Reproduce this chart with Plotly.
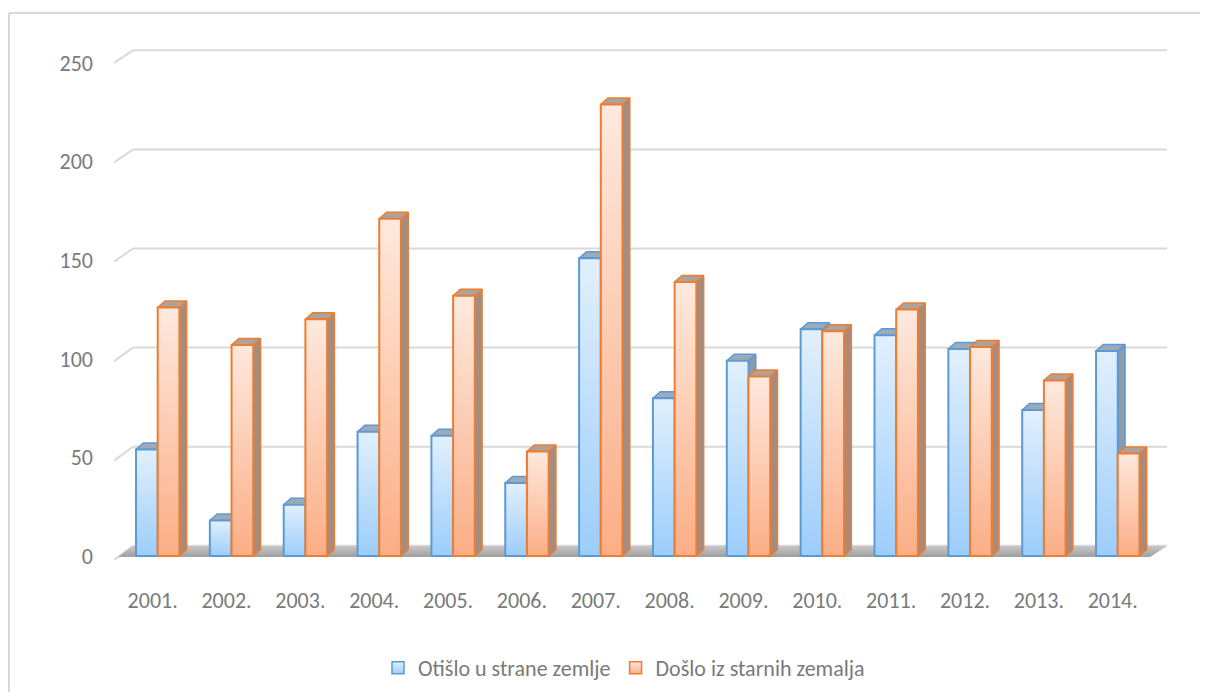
import plotly.graph_objects as go

# ---------------- data ----------------
years = ["2001.", "2002.", "2003.", "2004.", "2005.", "2006.", "2007.",
         "2008.", "2009.", "2010.", "2011.", "2012.", "2013.", "2014."]
otislo = [54, 18, 26, 63, 61, 37, 151, 80, 99, 115, 112, 105, 74, 104]
doslo = [126, 107, 120, 171, 132, 53, 229, 139, 91, 114, 125, 106, 89, 52]
series_names = ["Otišlo u strane zemlje", "Došlo iz starnih zemalja"]
y_ticks = [0, 50, 100, 150, 200, 250]

# ---------------- layout geometry (screen pixels) ----------------
OFF = 8                      # default page body margin
W_FIG, H_FIG = 1192, 684     # fits the 1208x700 window without scrollbars
PX_L, PX_R, PX_T, PX_B = 114, 1167, 40, 560
X_C0, X_STEP = 157.7, 73.85       # pixel of category 0 centre, pixels per category
Y_ZERO, Y_SCALE = 556.0, 1.972    # front plane: pixel of 0, pixels per unit


def px2x(px):
    return (px - X_C0) / X_STEP


def px2y(py):
    return (Y_ZERO - py) / Y_SCALE


def xpaper(px):
    return (px - PX_L) / (PX_R - PX_L)


def ypaper(py):
    return (PX_B - py) / (PX_B - PX_T)


BAR_W = 21.7 / X_STEP
DEP_X = 7.3 / X_STEP
DEP_Y = 6.5 / Y_SCALE

FONT = "Carlito, Calibri, Lato, sans-serif"
TXT = "#7a7a7a"
FS = 22

styles = [
    dict(line="#5b9bd5", top="#e2f0fd", bottom="#9ccdfa", side="#8d9aaa", cap="#9eaab8"),
    dict(line="#ed7d31", top="#fee9de", bottom="#fbae86", side="#a48c80", cap="#aca39d"),
]

fig = go.Figure()

# gridlines (front stub + back wall line)
shapes = []
for v in y_ticks:
    yf = px2y(560 - 1.988 * v)
    yb = px2y(545.8 - 1.982 * v)
    shapes.append(dict(type="line", xref="x", yref="y", x0=px2x(114), y0=yf,
                       x1=px2x(133), y1=yb, line=dict(color="#d9d9d9", width=2), layer="below"))
    shapes.append(dict(type="line", xref="x", yref="y", x0=px2x(133), y0=yb,
                       x1=px2x(1167), y1=yb, line=dict(color="#d9d9d9", width=2), layer="below"))

# outer chart border (top and left edges; right and bottom lie outside the view)
shapes.append(dict(type="line", xref="paper", yref="paper",
                   x0=xpaper(9), x1=xpaper(1400), y0=ypaper(13), y1=ypaper(13),
                   line=dict(color="#d9d9d9", width=2), layer="below"))
shapes.append(dict(type="line", xref="paper", yref="paper",
                   x0=xpaper(9), x1=xpaper(9), y0=ypaper(13), y1=ypaper(900),
                   line=dict(color="#d9d9d9", width=2), layer="below"))

# floor
fx = [px2x(118), px2x(133), px2x(1167), px2x(1150), px2x(118)]
fy = [px2y(557), px2y(546), px2y(546), px2y(557), px2y(557)]
fig.add_trace(go.Scatter(x=fx, y=fy, mode="lines", fill="toself", line=dict(width=0, color="#b0b0b0"),
                         fillgradient=dict(type="vertical", colorscale=[[0, "#9e9e9e"], [1, "#c8c8c8"]]),
                         hoverinfo="skip", showlegend=False))

for s, vals in enumerate([otislo, doslo]):
    st = styles[s]
    sx, sy, cx, cy = [], [], [], []
    for i, v in enumerate(vals):
        xl = i - BAR_W + s * BAR_W
        xr = xl + BAR_W
        sx += [xr, xr + DEP_X, xr + DEP_X, xr, xr, None]
        sy += [0, DEP_Y, v + DEP_Y, v, 0, None]
        cx += [xl, xl + DEP_X, xr + DEP_X, xr, xl, None]
        cy += [v, v + DEP_Y, v + DEP_Y, v, v, None]
    fig.add_trace(go.Scatter(x=sx, y=sy, mode="lines", fill="toself", fillcolor=st["side"],
                             line=dict(color=st["line"], width=1.5), hoverinfo="skip", showlegend=False))
    fig.add_trace(go.Scatter(x=cx, y=cy, mode="lines", fill="toself", fillcolor=st["cap"],
                             line=dict(color=st["line"], width=1.5), hoverinfo="skip", showlegend=False))
    for i, v in enumerate(vals):
        xl = i - BAR_W + s * BAR_W
        xr = xl + BAR_W
        fig.add_trace(go.Scatter(
            x=[xl, xr, xr, xl, xl], y=[0, 0, v, v, 0], mode="lines", fill="toself",
            line=dict(color=st["line"], width=2),
            fillgradient=dict(type="vertical", colorscale=[[0, st["bottom"]], [1, st["top"]]]),
            name=series_names[s], legendgroup=series_names[s], showlegend=False,
            hovertemplate=years[i] + " %{customdata}<extra>" + series_names[s] + "</extra>",
            customdata=[v] * 5))
    # legend entry
    fig.add_trace(go.Scatter(
        x=[None], y=[None], mode="markers", name=series_names[s], legendgroup=series_names[s],
        marker=dict(symbol="square", size=12, color=st["top"],
                    gradient=dict(type="vertical", color=st["bottom"]),
                    line=dict(color=st["line"], width=1.5))))

fig.update_layout(
    width=W_FIG, height=H_FIG,
    margin=dict(l=PX_L - OFF, r=W_FIG - (PX_R - OFF), t=PX_T - OFF, b=H_FIG - (PX_B - OFF),
                autoexpand=False),
    paper_bgcolor="white", plot_bgcolor="rgba(0,0,0,0)",
    font=dict(family=FONT, size=FS, color=TXT),
    shapes=shapes,
    showlegend=True,
    legend=dict(orientation="h", x=xpaper(624), xanchor="center", y=ypaper(668), yanchor="middle",
                font=dict(family=FONT, size=FS, color=TXT), itemwidth=30, bgcolor="rgba(0,0,0,0)"),
    xaxis=dict(range=[px2x(PX_L), px2x(PX_R)], showgrid=False, zeroline=False, showline=False,
               tickvals=[i - 5 / X_STEP for i in range(len(years))], ticktext=years,
               ticks="", ticklabelstandoff=25, fixedrange=True),
    yaxis=dict(range=[px2y(PX_B), px2y(PX_T)], showgrid=False, zeroline=False, showline=False,
               tickvals=y_ticks, ticktext=[str(t) for t in y_ticks], ticks="",
               ticklabelstandoff=20, fixedrange=True),
)

fig.write_html("out.html")
